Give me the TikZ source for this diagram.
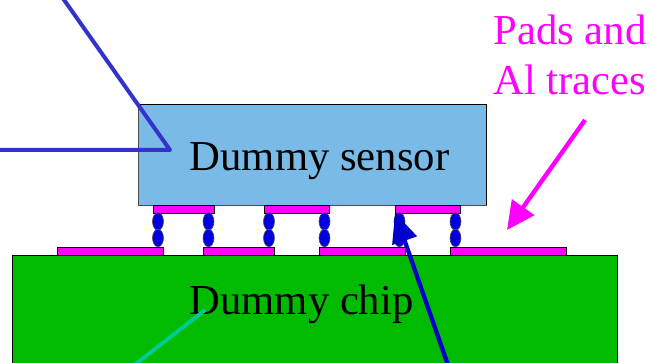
\documentclass[tikz,border=0pt]{standalone}
\usepackage{fontspec}
\setmainfont{Liberation Serif}
\usetikzlibrary{arrows.meta,shapes.geometric}
\definecolor{sensorblue}{HTML}{7ABAE6}
\definecolor{chipgreen}{HTML}{00BB00}
\definecolor{padmag}{HTML}{FF00FF}
\definecolor{bumpblue}{HTML}{0000E0}
\definecolor{linepurple}{HTML}{3333CC}
\definecolor{lineblue}{HTML}{0000CC}
\definecolor{lineteal}{HTML}{00CC99}
\tikzset{
  padbox/.style={draw=black,line width=0.7pt,fill=padmag,inner sep=0pt,outer sep=0pt,minimum height=6pt,minimum width=#1},
  bump/.style={draw=black!70,line width=0.5pt,fill=bumpblue,ellipse,inner sep=0pt,outer sep=0pt,minimum width=8.2pt,minimum height=13pt},
  bigtext/.style={font=\fontsize{32pt}{37.5pt}\selectfont,inner sep=0pt,align=center},
}
\begin{document}
\begin{tikzpicture}[x=0.75pt,y=-0.75pt]
\useasboundingbox (0,0) rectangle (651,363);
\begin{scope}
\clip (0,0) rectangle (651,363);
% chip and sensor
\fill[chipgreen] (12,255) rectangle (617,370);
\draw[black,line width=0.7pt] (12,370) -- (12,255) -- (617,255) -- (617,370);
\fill[sensorblue] (138,104) rectangle (486,205);
\draw[black!70,line width=0.7pt] (138,104) rectangle (486,205);
\draw[black,line width=0.7pt] (138,104) -- (486,104) -- (486,205);
% pads
\node[padbox=45.75pt,anchor=north west] (t1) at (153.5,205.5) {};
\node[padbox=48.75pt,anchor=north west] (t2) at (264.5,205.5) {};
\node[padbox=48.75pt,anchor=north west] (t3) at (395.5,205.5) {};
\node[padbox=79.5pt,anchor=north west] (b1) at (57.5,247) {};
\node[padbox=53pt,anchor=north west] (b2) at (203.5,247) {};
\node[padbox=64.5pt,anchor=north west] (b3) at (319.5,247) {};
\node[padbox=87pt,anchor=north west] (b4) at (450.5,247) {};
% bumps
\foreach \n/\x in {a/158,b/208.5,c/269,d/324.5,e/399.5,f/455.5}{
  \node[bump] (\n u) at (\x,221.5) {};
  \node[bump] (\n l) at (\x,238) {};
}
% text
\node[bigtext] (sensor) at (319.5,161) {Dummy sensor};
\node[bigtext] (chip) at (301.5,304.5) {Dummy chip};
\node[bigtext,text=padmag] (pads) at (570,55) {Pads and\\Al traces};
% connectors
\coordinate (p1) at (62,-3);
\coordinate (p2) at (170,150);
\coordinate (p3) at (-3,150);
\draw[linepurple,line width=3pt,line join=round] (p1) -- (p2) -- (p3);
\coordinate (m1) at (585,120);
\coordinate (m2) at (507,230);
\draw[padmag,line width=3.3pt,-{Triangle[length=21pt,width=20pt]}] (m1) -- (m2);
\coordinate (n1) at (449,368);
\coordinate (n2) at (395,213);
\draw[lineblue,line width=3.2pt,-{Triangle[length=22pt,width=19pt]}] (n1) -- (n2);
\coordinate (q1) at (205,310);
\coordinate (q2) at (133,366);
\draw[lineteal,line width=2.8pt] (q1) -- (q2);
\end{scope}
\end{tikzpicture}
\end{document}
